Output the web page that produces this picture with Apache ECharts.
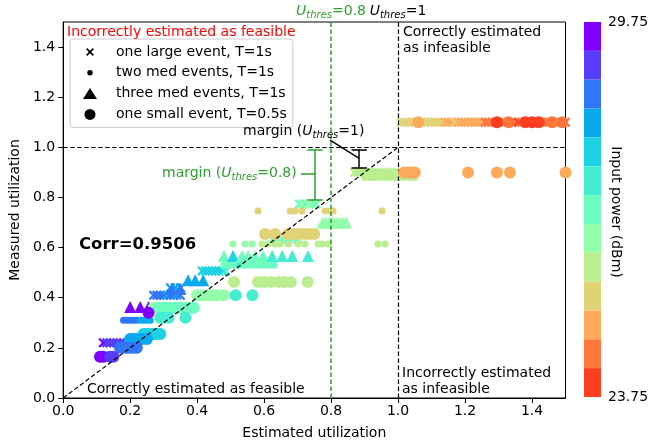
<!DOCTYPE html>
<html>
<head>
<meta charset="utf-8">
<script src="https://cdn.jsdelivr.net/npm/echarts@6/dist/echarts.min.js"></script>
<style>
  html, body { margin: 0; padding: 0; background: #fff; }
  #chart { width: 649px; height: 446px; }
</style>
</head>
<body>
<div id="chart"></div>
<script>
// tick values on both axes
const xTicks = [0, 0.2, 0.4, 0.6, 0.8, 1.0, 1.2, 1.4]
const yTicks = [0, 0.2, 0.4, 0.6, 0.8, 1.0, 1.2, 1.4]

// colour bar (input power, dBm), 13 bands from low (red) to high (purple)
const powerMin = 23.75
const powerMax = 29.75
const bandColors = ['#ff3d1f', '#ff763d', '#ffa95a', '#e2d276', '#baee91', '#93fda9', '#6cfdbf',
  '#45eed2', '#1dd2e2', '#0aa9ee', '#3176f8', '#583dfd', '#8000ff']

const seriesNames = ['one large event, T=1s', 'two med events, T=1s', 'three med events, T=1s', 'one small event, T=0.5s']

// [estimated utilization, measured utilization, input power]
const largeEvents = [
  [1.01, 1.10, 25.4], [1.02, 1.10, 25.4], [1.03, 1.10, 25.4], [1.04, 1.10, 25.4], [1.05, 1.10, 25.4],
  [1.06, 1.10, 25.4], [1.07, 1.10, 25.4], [1.08, 1.10, 25.4], [1.09, 1.10, 25.4], [1.10, 1.10, 25.4],
  [1.11, 1.10, 25.4], [1.12, 1.10, 25.4], [1.13, 1.10, 25.4], [1.14, 1.10, 24.9], [1.15, 1.10, 24.9],
  [1.16, 1.10, 24.9], [1.17, 1.10, 25.4], [1.18, 1.10, 24.9], [1.19, 1.10, 24.9], [1.20, 1.10, 24.9],
  [1.21, 1.10, 24.9], [1.22, 1.10, 24.9], [1.23, 1.10, 24.9], [1.24, 1.10, 24.9], [1.25, 1.10, 24.9],
  [1.26, 1.10, 24.4], [1.27, 1.10, 24.4], [1.28, 1.10, 24.4], [1.29, 1.10, 24.4], [1.31, 1.10, 24.4],
  [1.32, 1.10, 24.4], [1.33, 1.10, 24.4], [1.34, 1.10, 24.4], [1.35, 1.10, 24.4], [1.36, 1.10, 24.0],
  [1.37, 1.10, 24.4], [1.38, 1.10, 24.4], [1.39, 1.10, 24.4], [1.40, 1.10, 24.0], [1.41, 1.10, 24.4],
  [1.42, 1.10, 24.4], [1.43, 1.10, 24.4], [1.44, 1.10, 24.4], [1.45, 1.10, 24.4], [1.46, 1.10, 24.4],
  [1.47, 1.10, 24.4], [1.48, 1.10, 24.4], [1.49, 1.10, 24.4], [1.5, 1.10, 24.4],
  [0.87, 0.90, 25.8], [0.88, 0.90, 25.8], [0.89, 0.90, 25.8], [0.90, 0.90, 25.8], [0.91, 0.90, 25.8],
  [0.92, 0.90, 25.8], [0.93, 0.90, 25.8], [0.94, 0.90, 25.8], [0.95, 0.90, 25.8], [0.96, 0.90, 25.8],
  [0.97, 0.90, 25.8], [0.98, 0.90, 25.8], [0.99, 0.90, 25.8],
  [0.705, 0.774, 26.8], [0.715, 0.774, 26.3], [0.725, 0.774, 26.8], [0.735, 0.774, 26.3], [0.745, 0.774, 26.3],
  [0.755, 0.774, 26.8],
  [0.625, 0.634, 26.8], [0.64, 0.634, 26.8], [0.655, 0.634, 26.8], [0.67, 0.634, 26.8], [0.685, 0.634, 26.8],
  [0.70, 0.634, 26.8],
  [0.415, 0.507, 27.7], [0.425, 0.507, 27.7], [0.435, 0.507, 27.7], [0.445, 0.507, 27.7], [0.455, 0.507, 27.7],
  [0.465, 0.507, 27.7], [0.475, 0.507, 27.7], [0.485, 0.507, 27.2],
  [0.32, 0.44, 28.1], [0.335, 0.44, 28.1], [0.35, 0.44, 28.1],
  [0.27, 0.41, 28.6], [0.28, 0.41, 28.6], [0.29, 0.41, 28.6], [0.30, 0.41, 28.6], [0.31, 0.41, 28.1],
  [0.32, 0.41, 28.6], [0.33, 0.41, 28.6], [0.34, 0.41, 28.1], [0.35, 0.41, 28.6],
  [0.12, 0.22, 29.5], [0.13, 0.22, 29.1], [0.14, 0.22, 29.1], [0.15, 0.22, 29.1], [0.16, 0.22, 29.1],
  [0.17, 0.22, 29.1], [0.18, 0.22, 29.1]
]

const twoMedEvents = [
  [0.90, 0.88, 25.8], [0.915, 0.88, 25.8], [0.93, 0.88, 25.8], [0.945, 0.88, 25.8], [0.96, 0.88, 25.8],
  [0.975, 0.88, 25.8], [0.99, 0.88, 25.8], [1.005, 0.88, 25.8], [1.02, 0.88, 25.8], [1.035, 0.88, 25.8],
  [1.05, 0.88, 25.8],
  [0.582, 0.746, 25.4], [0.678, 0.746, 25.4], [0.693, 0.746, 25.4], [0.713, 0.746, 25.4], [0.782, 0.746, 25.4],
  [0.797, 0.746, 25.4], [0.806, 0.746, 25.4], [0.952, 0.746, 25.4],
  [0.507, 0.614, 26.3], [0.543, 0.614, 26.3], [0.564, 0.614, 26.3], [0.594, 0.614, 25.8], [0.612, 0.614, 25.8],
  [0.633, 0.614, 25.8], [0.648, 0.614, 25.8], [0.672, 0.614, 25.8], [0.701, 0.614, 25.8], [0.722, 0.614, 25.8],
  [0.761, 0.614, 25.8], [0.773, 0.614, 25.8], [0.791, 0.614, 25.8], [0.940, 0.614, 25.8], [0.961, 0.614, 25.8],
  [0.48, 0.53, 26.8], [0.495, 0.53, 26.8], [0.51, 0.53, 26.8], [0.525, 0.53, 27.2], [0.54, 0.53, 26.8],
  [0.555, 0.53, 26.8], [0.57, 0.53, 26.8], [0.585, 0.53, 26.8], [0.60, 0.53, 26.8], [0.615, 0.53, 26.8],
  [0.63, 0.53, 26.8],
  [0.18, 0.31, 28.6], [0.19, 0.31, 28.6], [0.20, 0.31, 28.6], [0.21, 0.31, 28.6], [0.22, 0.31, 28.6],
  [0.23, 0.31, 28.1], [0.24, 0.31, 28.1], [0.25, 0.31, 28.1], [0.26, 0.31, 28.1]
]

const threeMedEvents = [
  [0.775, 0.70, 26.3], [0.785, 0.70, 26.3], [0.795, 0.70, 26.3], [0.805, 0.70, 26.3], [0.815, 0.70, 26.3],
  [0.825, 0.70, 26.3], [0.835, 0.70, 26.3], [0.845, 0.70, 26.3],
  [0.48, 0.566, 26.8], [0.507, 0.566, 27.7], [0.534, 0.566, 26.8], [0.552, 0.566, 26.8], [0.573, 0.566, 26.8],
  [0.597, 0.566, 26.8], [0.624, 0.566, 27.2], [0.654, 0.566, 27.2], [0.684, 0.566, 27.2], [0.731, 0.566, 27.2],
  [0.373, 0.47, 28.1], [0.394, 0.47, 28.1], [0.418, 0.47, 28.1],
  [0.325, 0.435, 28.6], [0.35, 0.435, 28.6],
  [0.20, 0.363, 29.5], [0.23, 0.363, 29.5], [0.255, 0.363, 29.5]
]

const smallEvents = [
  [1.06, 1.10, 24.9], [1.295, 1.10, 24.0], [1.33, 1.10, 24.4], [1.38, 1.10, 24.0], [1.40, 1.10, 24.0],
  [1.42, 1.10, 24.0], [1.46, 1.10, 24.4], [1.49, 1.10, 24.4],
  [1.018, 0.90, 24.9], [1.03, 0.90, 24.9], [1.04, 0.90, 24.9], [1.05, 0.90, 24.9], [1.209, 0.90, 24.9],
  [1.295, 0.90, 24.9], [1.334, 0.90, 24.9], [1.5, 0.90, 24.9],
  [0.603, 0.654, 25.4], [0.633, 0.654, 25.4], [0.672, 0.654, 25.4], [0.69, 0.654, 25.4], [0.705, 0.654, 25.4],
  [0.72, 0.654, 25.4], [0.735, 0.654, 25.4], [0.75, 0.654, 25.4],
  [0.51, 0.463, 25.8], [0.582, 0.463, 25.8], [0.60, 0.463, 25.8], [0.62, 0.463, 25.8], [0.645, 0.463, 25.8],
  [0.66, 0.463, 25.8], [0.68, 0.463, 25.8], [0.73, 0.463, 25.8],
  [0.40, 0.41, 26.3], [0.415, 0.41, 26.3], [0.43, 0.41, 26.3], [0.445, 0.41, 26.3], [0.46, 0.41, 26.3],
  [0.48, 0.41, 26.3], [0.515, 0.41, 27.2], [0.565, 0.41, 27.2],
  [0.27, 0.36, 26.3], [0.285, 0.36, 26.8], [0.30, 0.36, 26.8], [0.31, 0.36, 26.8], [0.32, 0.36, 26.8],
  [0.335, 0.36, 26.8], [0.35, 0.36, 26.8], [0.365, 0.36, 26.8], [0.38, 0.36, 26.8], [0.39, 0.36, 26.8],
  [0.255, 0.34, 29.5],
  [0.29, 0.32, 27.2], [0.30, 0.32, 27.2], [0.315, 0.32, 27.2], [0.365, 0.32, 27.2],
  [0.24, 0.255, 27.7], [0.25, 0.255, 27.7], [0.26, 0.255, 27.7], [0.27, 0.255, 27.7], [0.28, 0.255, 27.7],
  [0.29, 0.255, 27.7],
  [0.20, 0.235, 28.1], [0.21, 0.235, 28.1], [0.22, 0.235, 28.1], [0.235, 0.235, 28.1], [0.25, 0.235, 28.1],
  [0.17, 0.20, 28.6], [0.18, 0.20, 28.6], [0.19, 0.20, 28.6], [0.20, 0.20, 28.6], [0.21, 0.20, 28.6],
  [0.22, 0.20, 28.6],
  [0.11, 0.165, 29.5], [0.12, 0.165, 29.5], [0.14, 0.165, 29.1], [0.15, 0.165, 29.1]
]

// reference lines and margin bars
const diagonal = [[0, 0], [1, 1]]
const thresholds = [0.8, 1.0]
const marginLow = [0.752, 0.79, 0.992]   // x, bottom, top  (U_thres = 0.8)
const marginHigh = [0.884, 0.92, 0.992]  // x, bottom, top  (U_thres = 1)

const green = '#2ca02c'
const font = 'DejaVu Sans'
const dash = [4.5, 2.5]

const crossSymbol = 'path://M1.6,0L5,3.4L8.4,0L10,1.6L6.6,5L10,8.4L8.4,10L5,6.6L1.6,10L0,8.4L3.4,5L0,1.6Z'
const crossLegend = 'path://M0,0M14,14M3.5,2L7,5.5L10.5,2L12,3.5L8.5,7L12,10.5L10.5,12L7,8.5L3.5,12L2,10.5L5.5,7L2,3.5Z'
const dotLegend = 'path://M0,0M14,14M3.5,7A3.5,3.5,0,1,1,10.5,7A3.5,3.5,0,1,1,3.5,7Z'

const step = (powerMax - powerMin) / bandColors.length
const pieces = bandColors.map((c, i) => ({ gte: powerMin + i * step, lt: powerMin + (i + 1) * step, color: c }))

function seg(a, b, style) {
  return [{ coord: a, lineStyle: style }, { coord: b }]
}
const greenSolid = { color: green, width: 1.5, type: 'solid' }
const blackSolid = { color: '#000', width: 1.5, type: 'solid' }
const capW = 0.023

function richStyle(color) {
  return {
    i: { fontStyle: 'italic', fontSize: 14, fontFamily: font, fill: color },
    s: { fontStyle: 'italic', fontSize: 10, fontFamily: font, fill: color, lineHeight: 19, verticalAlign: 'bottom' },
    n: { fontSize: 14, fontFamily: font, fill: color }
  }
}

function richText(x, y, text, color, align) {
  return {
    type: 'text', x: x, y: y, z: 100, silent: true,
    style: { text: text, align: align, verticalAlign: 'middle', rich: richStyle(color) }
  }
}

function plainText(x, y, text, extra) {
  return {
    type: 'text', x: x, y: y, z: 100, silent: true,
    style: Object.assign({ text: text, fontSize: 14, fontFamily: font, fill: '#000', align: 'left', verticalAlign: 'middle' }, extra)
  }
}

const chart = echarts.init(document.getElementById('chart'))
chart.setOption({
  animation: false,
  backgroundColor: '#fff',
  textStyle: { fontFamily: font },
  grid: { left: 63, right: 83.5, top: 22, bottom: 48, show: true, borderColor: '#000', borderWidth: 1, backgroundColor: 'transparent' },
  xAxis: {
    type: 'value', min: 0, max: 1.5,
    name: 'Estimated utilization', nameLocation: 'middle', nameGap: 28,
    nameTextStyle: { fontSize: 14, color: '#000', fontFamily: font },
    axisLine: { show: true, lineStyle: { color: '#000', width: 1 } },
    axisTick: { show: true, length: 5, lineStyle: { color: '#000' }, customValues: xTicks },
    axisLabel: { fontSize: 14, color: '#000', margin: 6, fontFamily: font, customValues: xTicks, formatter: v => v.toFixed(1) },
    splitLine: { show: false }
  },
  yAxis: {
    type: 'value', min: 0, max: 1.5,
    name: 'Measured utilization', nameLocation: 'middle', nameGap: 40,
    nameTextStyle: { fontSize: 14, color: '#000', fontFamily: font },
    axisLine: { show: true, lineStyle: { color: '#000', width: 1 } },
    axisTick: { show: true, length: 5, lineStyle: { color: '#000' }, customValues: yTicks },
    axisLabel: { fontSize: 14, color: '#000', margin: 8, fontFamily: font, customValues: yTicks, formatter: v => v.toFixed(1) },
    splitLine: { show: false }
  },
  legend: {
    orient: 'vertical', left: 70, top: 39,
    padding: [6, 6, 6, 13],
    itemWidth: 14, itemHeight: 11, itemGap: 6.8,
    selectedMode: false,
    backgroundColor: 'rgba(255,255,255,0.8)', borderColor: '#cccccc', borderWidth: 1, borderRadius: 3,
    itemStyle: { color: '#000', borderWidth: 0 },
    textStyle: { fontSize: 14, color: '#000', fontFamily: font, lineHeight: 14, padding: [0, 0, 0, 14] },
    data: [
      { name: seriesNames[0], icon: crossLegend },
      { name: seriesNames[1], icon: dotLegend },
      { name: seriesNames[2], icon: 'triangle' },
      { name: seriesNames[3], icon: 'circle' }
    ]
  },
  visualMap: {
    type: 'piecewise', dimension: 2, seriesIndex: [0, 1, 2, 3],
    orient: 'vertical', left: 584, top: 22, padding: 0,
    itemWidth: 17, itemHeight: 375 / 13, itemGap: 0, itemSymbol: 'rect',
    showLabel: false, selectedMode: false, hoverLink: false,
    pieces: pieces
  },
  graphic: [
    richText(331, 11, '{i|U}{s|thres}{n|=0.8}', green, 'center'),
    richText(398, 11, '{i|U}{s|thres}{n|=1}', '#000', 'center'),
    richText(162, 173, '{n|margin (}{i|U}{s|thres}{n|=0.8)}', green, 'left'),
    richText(243, 131, '{n|margin (}{i|U}{s|thres}{n|=1)}', '#000', 'left'),
    plainText(67, 32, 'Incorrectly estimated as feasible', { fill: '#ff0000' }),
    plainText(403, 40, 'Correctly estimated\nas infeasible', { lineHeight: 16 }),
    plainText(402, 381, 'Incorrectly estimated\nas infeasible', { lineHeight: 16 }),
    plainText(87, 389, 'Correctly estimated as feasible'),
    plainText(79, 245, 'Corr=0.9506', { fontSize: 16.5, fontWeight: 'bold' }),
    plainText(608, 22, '29.75'),
    plainText(608, 397, '23.75'),
    {
      type: 'text', x: 616, y: 212, rotation: -Math.PI / 2, z: 100, silent: true,
      style: { text: 'Input power (dBm)', fontSize: 14, fontFamily: font, fill: '#000', align: 'center', verticalAlign: 'middle' }
    }
  ],
  series: [
    { name: seriesNames[0], type: 'scatter', data: largeEvents, symbol: crossSymbol, symbolSize: 10, itemStyle: { color: '#000', opacity: 1 }, z: 2, silent: true },
    { name: seriesNames[1], type: 'scatter', data: twoMedEvents, symbol: 'circle', symbolSize: 7, itemStyle: { color: '#000', opacity: 1 }, z: 3, silent: true },
    { name: seriesNames[2], type: 'scatter', data: threeMedEvents, symbol: 'triangle', symbolSize: 12, itemStyle: { color: '#000', opacity: 1 }, z: 4, silent: true },
    { name: seriesNames[3], type: 'scatter', data: smallEvents, symbol: 'circle', symbolSize: 12, itemStyle: { color: '#000', opacity: 1 }, z: 5, silent: true },
    {
      type: 'line', data: diagonal, showSymbol: false, symbol: 'none', silent: true, z: 10,
      lineStyle: { color: '#000', width: 1.2, type: dash },
      markLine: {
        silent: true, symbol: ['none', 'none'], label: { show: false }, animation: false,
        emphasis: { disabled: true },
        data: [
          { xAxis: thresholds[0], lineStyle: { color: green, width: 1.5, type: dash } },
          { xAxis: thresholds[1], lineStyle: { color: '#000', width: 1.2, type: dash } },
          { yAxis: thresholds[1], lineStyle: { color: '#000', width: 1.2, type: dash } },
          seg([marginLow[0], marginLow[1]], [marginLow[0], marginLow[2]], greenSolid),
          seg([marginLow[0] - capW, marginLow[1]], [marginLow[0] + capW, marginLow[1]], greenSolid),
          seg([marginLow[0] - capW, marginLow[2]], [marginLow[0] + capW, marginLow[2]], greenSolid),
          seg([0.71, 0.894], [marginLow[0], 0.894], greenSolid),
          seg([marginHigh[0], marginHigh[1]], [marginHigh[0], marginHigh[2]], blackSolid),
          seg([marginHigh[0] - capW, marginHigh[1]], [marginHigh[0] + capW, marginHigh[1]], blackSolid),
          seg([marginHigh[0] - capW, marginHigh[2]], [marginHigh[0] + capW, marginHigh[2]], blackSolid),
          seg([0.797, 1.029], [marginHigh[0], 0.956], blackSolid)
        ]
      }
    }
  ]
})
</script>
</body>
</html>
